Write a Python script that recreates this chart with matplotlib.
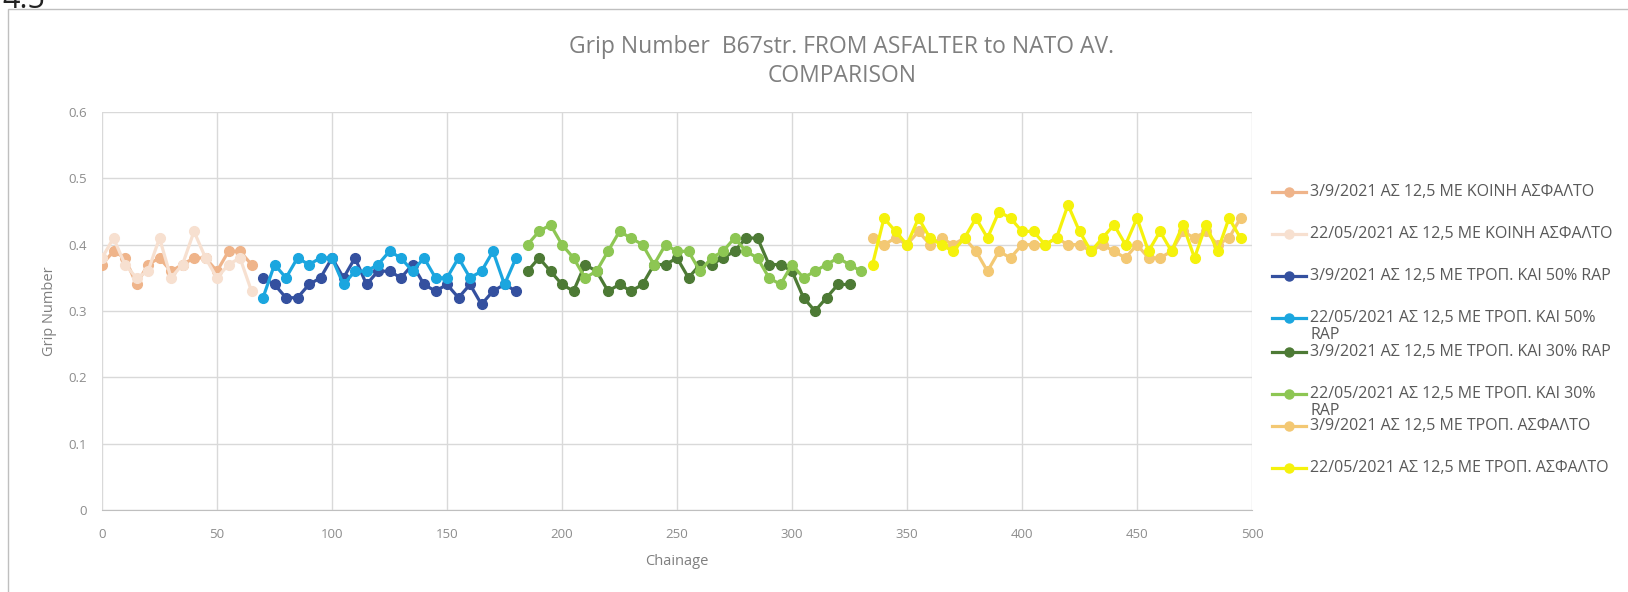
import matplotlib
matplotlib.use("Agg")
import matplotlib.pyplot as plt
from matplotlib.lines import Line2D
from matplotlib.patches import Rectangle

plt.rcParams['font.family'] = ['Open Sans', 'DejaVu Sans']

# ---------------- data ----------------
labels = [
    "3/9/2021 ΑΣ 12,5 ΜΕ ΚΟΙΝΗ ΑΣΦΑΛΤΟ",
    "22/05/2021 ΑΣ 12,5 ΜΕ ΚΟΙΝΗ ΑΣΦΑΛΤΟ",
    "3/9/2021 ΑΣ 12,5 ΜΕ ΤΡΟΠ. ΚΑΙ 50% RAP",
    "22/05/2021 ΑΣ 12,5 ΜΕ ΤΡΟΠ. ΚΑΙ 50%\nRAP",
    "3/9/2021 ΑΣ 12,5 ΜΕ ΤΡΟΠ. ΚΑΙ 30% RAP",
    "22/05/2021 ΑΣ 12,5 ΜΕ ΤΡΟΠ. ΚΑΙ 30%\nRAP",
    "3/9/2021 ΑΣ 12,5 ΜΕ ΤΡΟΠ. ΑΣΦΑΛΤΟ",
    "22/05/2021 ΑΣ 12,5 ΜΕ ΤΡΟΠ. ΑΣΦΑΛΤΟ",
]

x_koini = list(range(0, 70, 5))
koini_0309 = [0.37, 0.39, 0.38, 0.34, 0.37, 0.38, 0.36, 0.37, 0.38, 0.38, 0.36, 0.39, 0.39, 0.37]
koini_2205 = [0.38, 0.41, 0.37, 0.35, 0.36, 0.41, 0.35, 0.37, 0.42, 0.38, 0.35, 0.37, 0.38, 0.33]

x_rap50 = list(range(70, 185, 5))
rap50_0309 = [0.35, 0.34, 0.32, 0.32, 0.34, 0.35, 0.38, 0.35, 0.38, 0.34, 0.36, 0.36,
              0.35, 0.37, 0.34, 0.33, 0.34, 0.32, 0.34, 0.31, 0.33, 0.34, 0.33]
rap50_2205 = [0.32, 0.37, 0.35, 0.38, 0.37, 0.38, 0.38, 0.34, 0.36, 0.36, 0.37, 0.39,
              0.38, 0.36, 0.38, 0.35, 0.35, 0.38, 0.35, 0.36, 0.39, 0.34, 0.38]

x_rap30_0309 = list(range(185, 330, 5))
rap30_0309 = [0.36, 0.38, 0.36, 0.34, 0.33, 0.37, 0.36, 0.33, 0.34, 0.33, 0.34, 0.37,
              0.37, 0.38, 0.35, 0.37, 0.37, 0.38, 0.39, 0.41, 0.41, 0.37, 0.37, 0.36,
              0.32, 0.30, 0.32, 0.34, 0.34]
x_rap30_2205 = list(range(185, 335, 5))
rap30_2205 = [0.40, 0.42, 0.43, 0.40, 0.38, 0.35, 0.36, 0.39, 0.42, 0.41, 0.40, 0.37,
              0.40, 0.39, 0.39, 0.36, 0.38, 0.39, 0.41, 0.39, 0.38, 0.35, 0.34, 0.37,
              0.35, 0.36, 0.37, 0.38, 0.37, 0.36]

x_trop = list(range(335, 500, 5))
trop_0309 = [0.41, 0.40, 0.41, 0.40, 0.42, 0.40, 0.41, 0.40, 0.41, 0.39, 0.36, 0.39,
             0.38, 0.40, 0.40, 0.40, 0.41, 0.40, 0.40, 0.39, 0.40, 0.39, 0.38, 0.40,
             0.38, 0.38, 0.39, 0.42, 0.41, 0.42, 0.40, 0.41, 0.44]
trop_2205 = [0.37, 0.44, 0.42, 0.40, 0.44, 0.41, 0.40, 0.39, 0.41, 0.44, 0.41, 0.45,
             0.44, 0.42, 0.42, 0.40, 0.41, 0.46, 0.42, 0.39, 0.41, 0.43, 0.40, 0.44,
             0.39, 0.42, 0.39, 0.43, 0.38, 0.43, 0.39, 0.44, 0.41]

series_x = [x_koini, x_koini, x_rap50, x_rap50, x_rap30_0309, x_rap30_2205, x_trop, x_trop]
series_y = [koini_0309, koini_2205, rap50_0309, rap50_2205, rap30_0309, rap30_2205, trop_0309, trop_2205]
colors = ['#EFB48A', '#F7E0D0', '#34509F', '#1BA6DF', '#4D7A35', '#8DC653', '#F3C873', '#F5F20C']

x_ticks = list(range(0, 550, 50))
y_ticks = [0, 0.1, 0.2, 0.3, 0.4, 0.5, 0.6]
y_ticklabels = ["0", "0.1", "0.2", "0.3", "0.4", "0.5", "0.6"]

# ---------------- figure ----------------
W, H = 1628, 592
fig = plt.figure(figsize=(W / 100, H / 100), dpi=100)
fig.patch.set_facecolor('white')

def fx(px):
    return px / W

def fy(py):
    return 1 - py / H

ax = fig.add_axes([fx(102), fy(510), fx(1252) - fx(102), fy(112) - fy(510)])

for xs, ys, c in zip(series_x, series_y, colors):
    ax.plot(xs, ys, color=c, lw=2.3, marker='o', ms=7, mfc=c, mec=c, zorder=3)

ax.set_xlim(0, 500)
ax.set_ylim(0, 0.6)
ax.set_xticks(x_ticks)
ax.set_yticks(y_ticks)
ax.set_yticklabels(y_ticklabels)
ax.grid(True, color='#D9D9D9', lw=1.0, zorder=0)
for s in ['top', 'right', 'left']:
    ax.spines[s].set_visible(False)
ax.spines['bottom'].set_color('#BFBFBF')
ax.tick_params(axis='both', length=0, colors='#8C8C8C', labelsize=9.5)
ax.tick_params(axis='x', pad=13)
ax.tick_params(axis='y', pad=11)
ax.set_xlabel("Chainage", color='#7F7F7F', fontsize=10.5, labelpad=9)
ax.set_ylabel("Grip Number", color='#7F7F7F', fontsize=10.5, labelpad=8)

# title
fig.text(0.517, fy(47), "Grip Number  B67str. FROM ASFALTER to NATO AV.", ha='center', va='center',
         fontsize=16.5, color='#7F7F7F')
fig.text(0.517, fy(76), "COMPARISON", ha='center', va='center', fontsize=16.5, color='#7F7F7F')

# chart frame
fig.add_artist(Rectangle((fx(8), -0.2), 1.5, fy(9) + 0.2, transform=fig.transFigure,
                         fill=False, edgecolor='#BFBFBF', lw=1.0))
fig.text(fx(2), fy(8), "4.5", fontsize=22, va='baseline', ha='left', color='#222222')

# legend (manual placement)
leg_y = [192, 234, 276, 318, 352, 394, 426, 468]
for lab, c, ly in zip(labels, colors, leg_y):
    fig.add_artist(Line2D([fx(1272), fx(1306)], [fy(ly), fy(ly)], transform=fig.transFigure,
                          color=c, lw=2.3))
    fig.add_artist(Line2D([fx(1289)], [fy(ly)], transform=fig.transFigure,
                          color=c, marker='o', ms=6.5, mfc=c, mec=c))
    parts = lab.split('\n')
    for k, part in enumerate(parts):
        fig.text(fx(1310), fy(ly + 17 * k), part, ha='left', va='center',
                 fontsize=11.5, color='#595959')

fig.savefig("out.png", dpi=100)
